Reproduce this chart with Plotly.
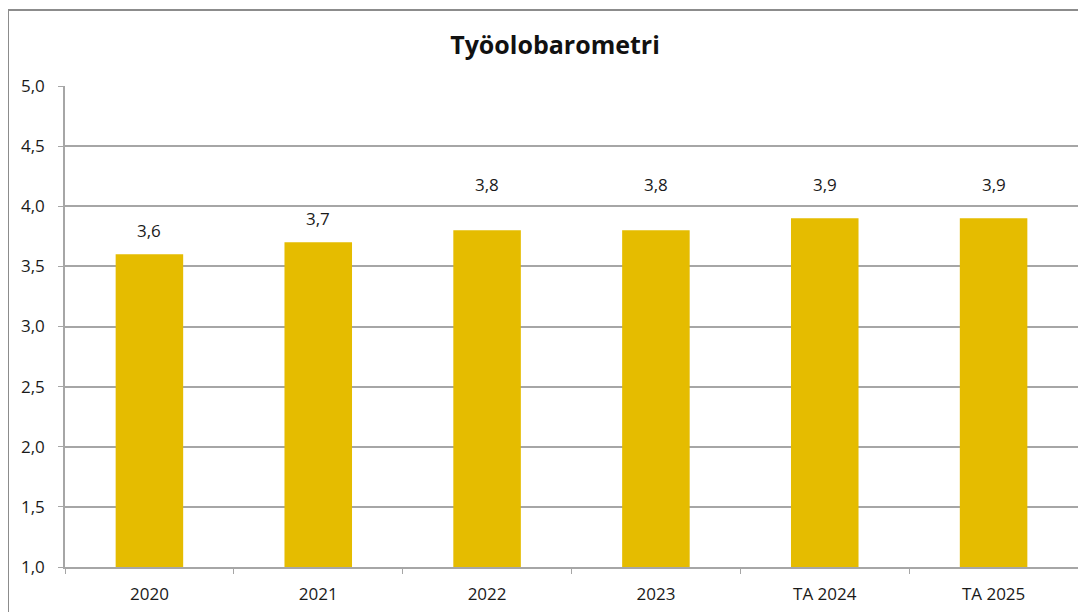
import plotly.graph_objects as go

categories = ["2020", "2021", "2022", "2023", "TA 2024", "TA 2025"]
values = [3.6, 3.7, 3.8, 3.8, 3.9, 3.9]
label_shift_px = [10, 10, 32, 32, 20, 20]

bar_color = "#E5BC00"
grid_color = "#A6A6A6"
font_family = "Open Sans, Liberation Sans, sans-serif"
axis_base = 1.0

# page body has an 8px default margin; size the figure to fit the window
W, H = 1078, 604
L, R, T, B = 57, 8, 78, 45

fig = go.Figure()
fig.add_trace(go.Bar(
    x=categories, y=[v - axis_base for v in values], base=axis_base,
    marker=dict(color=bar_color, line=dict(width=0)),
    width=0.4, showlegend=False, hoverinfo="skip",
))

for i, (v, s) in enumerate(zip(values, label_shift_px)):
    fig.add_annotation(x=i, y=v, text=f"{v:.1f}".replace(".", ","), showarrow=False,
                       yshift=s, yanchor="bottom", font=dict(size=17, color="#1a1a1a"))

fig.update_layout(
    width=W, height=H,
    margin=dict(l=L, r=R, t=T, b=B, autoexpand=False),
    paper_bgcolor="white", plot_bgcolor="white",
    font=dict(family=font_family, size=17, color="#1a1a1a"),
    separators=", ",
    title=dict(text="<b>Työolobarometri</b>", x=(555 - 8) / W, xanchor="center",
               y=1 - (45 - 8) / H, yanchor="middle", font=dict(size=25, color="#111")),
)
fig.update_yaxes(range=[1.0, 5.0], dtick=0.5, tick0=1.0, tickformat=".1f",
                 showgrid=True, gridcolor=grid_color, gridwidth=1.5,
                 showline=True, linecolor=grid_color, linewidth=1.5,
                 ticks="outside", ticklen=5, tickcolor=grid_color,
                 ticklabelstandoff=10, zeroline=False, fixedrange=True, automargin=False)
fig.update_xaxes(type="category", range=[-0.5, len(categories) - 0.5],
                 showline=True, linecolor=grid_color, linewidth=1.5,
                 ticks="outside", ticklen=5, tickcolor=grid_color, tickson="boundaries",
                 ticklabelstandoff=11, tickangle=0, showgrid=False, fixedrange=True,
                 automargin=False)

pw = W - L - R
ph = H - T - B
fig.add_shape(type="rect", xref="paper", yref="paper",
              x0=(8 - 8 - L) / pw, x1=(W + 10 - L) / pw,
              y0=-(H + 10 - (H - B)) / ph, y1=((H - B) - 2) / ph,
              line=dict(color="#8C8C8C", width=2), fillcolor="rgba(0,0,0,0)", layer="below")

fig.write_html("out.html")
